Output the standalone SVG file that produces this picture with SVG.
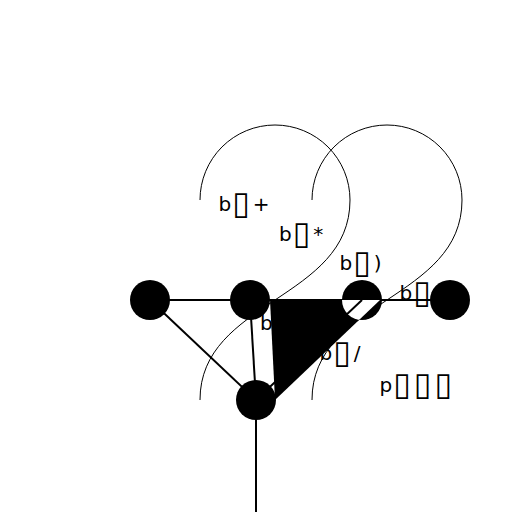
<svg xmlns="http://www.w3.org/2000/svg" width="512" height="512" viewBox="0 0 512 512">
<style>
 text { font-family: "DejaVu Sans", "Noto Sans", sans-serif; font-size: 20px; fill: #000; }
 .bx { font-size: 32px; letter-spacing: 3px; }
 .edge { stroke: #000; stroke-width: 2; fill: none; }
 .loop { stroke: #000; stroke-width: 1; fill: none; }
 .node { fill: #000; }
</style>
<defs>
 <clipPath id="c3"><circle cx="362" cy="300" r="20"/></clipPath>
 <mask id="m3" maskUnits="userSpaceOnUse" x="0" y="0" width="512" height="512">
  <rect x="0" y="0" width="512" height="512" fill="#fff"/>
  <line x1="362" y1="300" x2="256" y2="400" stroke="#000" stroke-width="2"/>
 </mask>
</defs>
<rect width="512" height="512" fill="#fff"/>
<g id="labels">
 <text x="218.5" y="210.5">b<tspan class="bx" dx="1" dy="3">▯</tspan><tspan dy="-3">+</tspan></text>
 <text x="279" y="240.5">b<tspan class="bx" dx="1" dy="3">▯</tspan><tspan dy="-3">*</tspan></text>
 <text x="339.5" y="270">b<tspan class="bx" dx="1" dy="3">▯</tspan><tspan dy="-3">)</tspan></text>
 <text x="399.5" y="300">b<tspan class="bx" dx="1" dy="3">▯</tspan></text>
 <text x="260" y="330">b</text>
 <text x="319.5" y="360">b<tspan class="bx" dx="1" dy="3">▯</tspan><tspan dy="-3">/</tspan></text>
 <text x="379.5" y="392">p<tspan class="bx" dx="1" dy="3">▯▯▯</tspan></text>
</g>
<g id="connectors">
 <path class="loop" d="M200,400 C200,300 350,300 350,200 A75,75 0 0 0 200,200"/>
 <path class="loop" d="M312,400 C312,300 462,300 462,200 A75,75 0 0 0 312,200"/>
 <line class="edge" x1="150" y1="300" x2="250" y2="300"/>
 <line class="edge" x1="150" y1="300" x2="256" y2="400"/>
 <line class="edge" x1="250" y1="300" x2="256" y2="400"/>
 <line class="edge" x1="250" y1="300" x2="362" y2="300"/>
 <line class="edge" x1="362" y1="300" x2="450" y2="300"/>
 <line class="edge" x1="362" y1="300" x2="256" y2="400"/>
 <line class="edge" x1="256" y1="400" x2="256" y2="512"/>
 <polygon points="270,300 380,300 275,400" fill="#000"/>
</g>
<g id="node1"><circle class="node" cx="150" cy="300" r="20"/></g>
<g id="node2"><circle class="node" cx="250" cy="300" r="20"/></g>
<g id="node3">
 <circle class="node" cx="362" cy="300" r="20"/>
 <polygon points="270,300 380,300 275,400" fill="#fff" clip-path="url(#c3)" mask="url(#m3)"/>
</g>
<g id="node4"><circle class="node" cx="450" cy="300" r="20"/></g>
<g id="node5"><circle class="node" cx="256" cy="400" r="20"/></g>
</svg>
